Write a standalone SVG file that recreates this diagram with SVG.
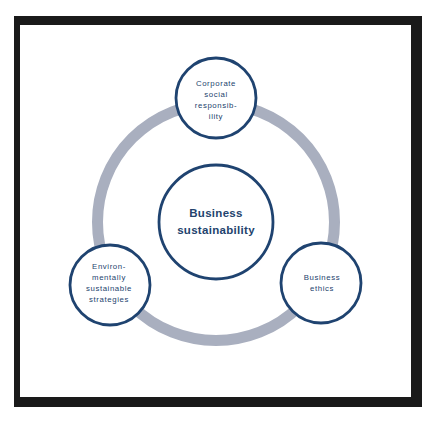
<svg xmlns="http://www.w3.org/2000/svg" width="433" height="427" viewBox="0 0 433 427">
<style>
.node{fill:#ffffff;stroke:#1f4370;stroke-width:2.8}
.t{font-family:"Liberation Sans",Arial,sans-serif;fill:#23436d;text-anchor:middle;dominant-baseline:central}
.s{font-size:7.8px;letter-spacing:0.6px}
.b{font-size:11.5px;font-weight:bold;letter-spacing:0.3px}
</style>
<rect x="0" y="0" width="433" height="427" fill="#ffffff"/>
<rect x="14" y="16" width="408" height="391" fill="#1a1a1a"/>
<rect x="20" y="25" width="391" height="372" fill="#ffffff"/>
<g id="connectors">
<circle cx="216" cy="222" r="118.5" fill="none" stroke="#a9afbf" stroke-width="11"/>
</g>
<g id="center">
<circle class="node" cx="216" cy="222" r="57"/>
<text class="t b" x="216" y="213">Business</text>
<text class="t b" x="216" y="230">sustainability</text>
</g>
<g id="csr">
<circle class="node" cx="216" cy="98" r="40"/>
<text class="t s" x="216" y="83.5">Corporate</text>
<text class="t s" x="216" y="94.5">social</text>
<text class="t s" x="216" y="105.5">responsib-</text>
<text class="t s" x="216" y="116.5">ility</text>
</g>
<g id="env">
<circle class="node" cx="110" cy="285" r="40"/>
<text class="t s" x="109" y="266">Environ-</text>
<text class="t s" x="109" y="277">mentally</text>
<text class="t s" x="109" y="288">sustainable</text>
<text class="t s" x="109" y="299">strategies</text>
</g>
<g id="ethics">
<circle class="node" cx="321" cy="283" r="40"/>
<text class="t s" x="322" y="277.5">Business</text>
<text class="t s" x="322" y="288.5">ethics</text>
</g>
</svg>
